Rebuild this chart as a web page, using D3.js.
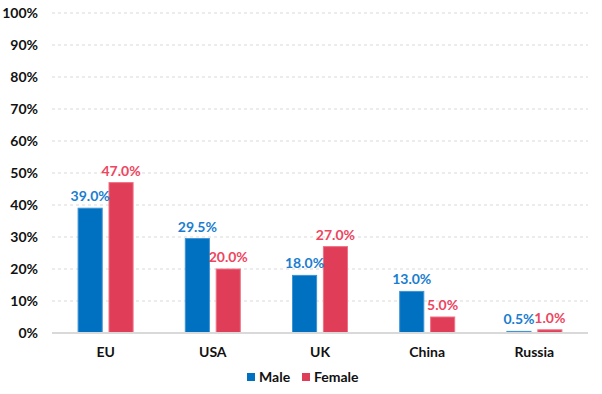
<!DOCTYPE html>
<html>
<head>
<meta charset="utf-8">
<script src="https://cdn.jsdelivr.net/npm/d3@7"></script>
<style>
  body { margin: 0; background: #fff; }
  svg { font-family: Lato, "Open Sans", sans-serif; font-weight: bold; }
</style>
</head>
<body>
<svg id="chart" width="602" height="394"></svg>
<script>
var countries = ["EU", "USA", "UK", "China", "Russia"];
var male = [39.0, 29.5, 18.0, 13.0, 0.5];
var female = [47.0, 20.0, 27.0, 5.0, 1.0];
var seriesNames = ["Male", "Female"];
var yTicks = [0, 10, 20, 30, 40, 50, 60, 70, 80, 90, 100];

var colors = { Male: "#0070C0", Female: "#E03E58" };
var strokes = { Male: "#3D93D6", Female: "#EE7285" };
var labelColors = { Male: "#1A7DCF", Female: "#EE4560" };

var svg = d3.select("#chart");
var margin = { top: 13, right: 14, bottom: 61, left: 52 };
var width = 602 - margin.left - margin.right;
var height = 394 - margin.top - margin.bottom;

var g = svg.append("g").attr("transform", "translate(" + margin.left + "," + margin.top + ")");

// scales
var x0 = d3.scaleBand().domain(countries).range([0, width]);
var x1 = d3.scaleBand().domain(seriesNames).range([0, 55]).paddingInner(0.22);
var y = d3.scaleLinear().domain([0, 100]).range([height, 0]);

// gridlines
g.selectAll(".grid")
  .data(yTicks.filter(function (d) { return d > 0; }))
  .enter().append("line")
  .attr("x1", 0).attr("x2", width)
  .attr("y1", function (d) { return y(d); })
  .attr("y2", function (d) { return y(d); })
  .attr("stroke", "#d9d9d9")
  .attr("stroke-dasharray", "3,3");

// y axis
var yAxis = g.append("g")
  .call(d3.axisLeft(y).tickValues(yTicks).tickFormat(function (d) { return d + "%"; }).tickSize(0).tickPadding(14));
yAxis.select(".domain").remove();
yAxis.selectAll("text").attr("font-size", 14).attr("fill", "#111").style("font-family", "Lato, sans-serif").style("font-weight", "bold");

// bars
var rows = countries.map(function (c, i) {
  return { country: c, values: [{ key: "Male", v: male[i] }, { key: "Female", v: female[i] }] };
});

var grp = g.selectAll(".grp")
  .data(rows)
  .enter().append("g")
  .attr("transform", function (d) { return "translate(" + (x0(d.country) + (x0.bandwidth() - 55) / 2) + ",0)"; });

grp.selectAll("rect")
  .data(function (d) { return d.values; })
  .enter().append("rect")
  .attr("x", function (d) { return x1(d.key); })
  .attr("width", x1.bandwidth())
  .attr("y", function (d) { return y(d.v); })
  .attr("height", function (d) { return height - y(d.v); })
  .attr("fill", function (d) { return colors[d.key]; })
  .attr("stroke", function (d) { return strokes[d.key]; })
  .attr("stroke-width", 1);

grp.selectAll(".lbl")
  .data(function (d) { return d.values; })
  .enter().append("text")
  .attr("x", function (d) { return x1(d.key) + x1.bandwidth() / 2; })
  .attr("y", function (d) { return y(d.v) - 7; })
  .attr("text-anchor", "middle")
  .attr("font-size", 14)
  .attr("fill", function (d) { return labelColors[d.key]; })
  .text(function (d) { return d.v.toFixed(1) + "%"; });

// baseline
g.append("line")
  .attr("x1", 0).attr("x2", width)
  .attr("y1", height).attr("y2", height)
  .attr("stroke", "#d9d9d9")
  .attr("stroke-width", 2);

// x axis
var xAxis = g.append("g")
  .attr("transform", "translate(0," + height + ")")
  .call(d3.axisBottom(x0).tickSize(0).tickPadding(14));
xAxis.select(".domain").remove();
xAxis.selectAll("text").attr("font-size", 14).attr("fill", "#111").style("font-family", "Lato, sans-serif").style("font-weight", "bold");

// legend
var legend = svg.append("g").attr("transform", "translate(247,377)");
var lx = [0, 55];
seriesNames.forEach(function (s, i) {
  legend.append("rect")
    .attr("x", lx[i]).attr("y", -4)
    .attr("width", 8).attr("height", 8)
    .attr("fill", colors[s]);
  legend.append("text")
    .attr("x", lx[i] + 12).attr("y", 5)
    .attr("font-size", 14)
    .attr("fill", "#111")
    .text(s);
});
</script>
</body>
</html>
